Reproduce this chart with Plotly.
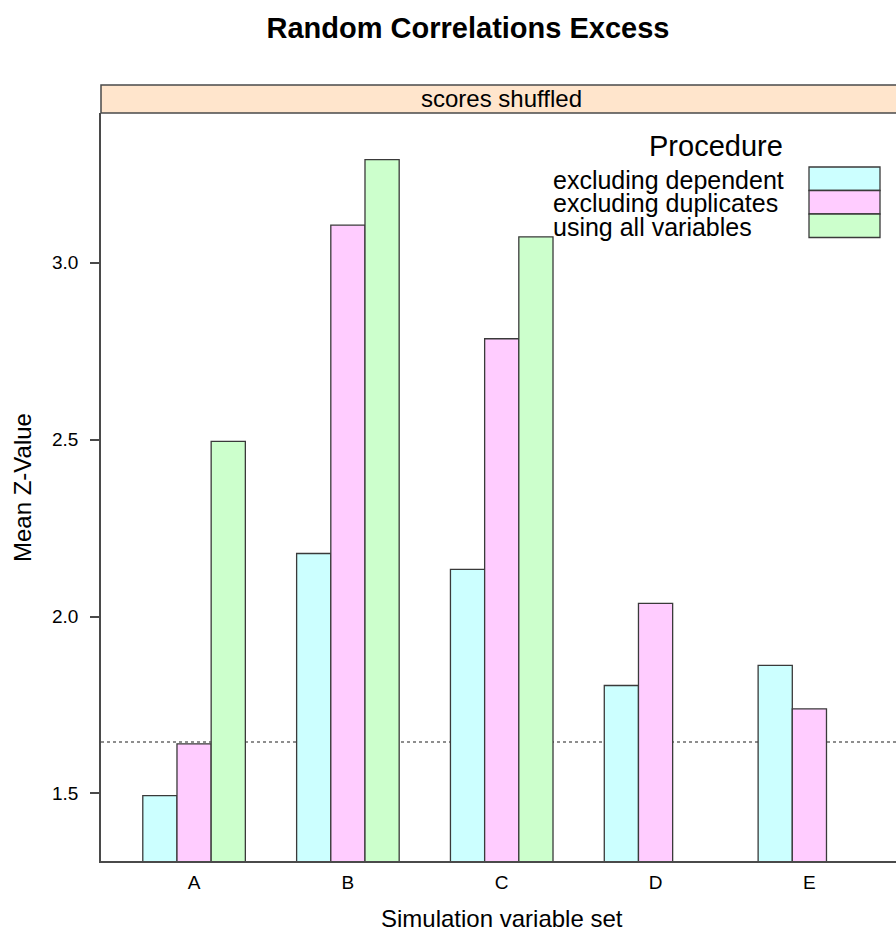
import plotly.graph_objects as go

# Data
categories = ["A", "B", "C", "D", "E"]
procedures = ["excluding dependent", "excluding duplicates", "using all variables"]
excl_dependent = [1.494, 2.178, 2.133, 1.805, 1.862]
excl_duplicates = [1.640, 3.106, 2.785, 2.037, 1.739]
all_variables = [2.495, 3.291, 3.073, None, None]
series = [excl_dependent, excl_duplicates, all_variables]
bar_colors = ["#CCFFFF", "#FFCCFF", "#CCFFCC"]
threshold = 1.645
y_ticks = [1.5, 2.0, 2.5, 3.0]

# Layout geometry (pixels)
W, H = 896, 931
L, R, T, B = 101, 0, 113, 70
PW, PH = W - L - R, H - T - B


def px_x(px):
    return (px - L) / PW


def px_y(py):
    return (H - B - py) / PH


FONT = "Liberation Sans, Arial, Helvetica, sans-serif"
EDGE = "#3a3a3a"

fig = go.Figure()
for name, vals, col in zip(procedures, series, bar_colors):
    fig.add_trace(go.Bar(
        x=categories, y=vals, name=name,
        marker=dict(color=col, line=dict(color=EDGE, width=1.3)),
        showlegend=False,
    ))

shapes = []
# reference line
shapes.append(dict(type="line", xref="paper", yref="y", x0=0, x1=1,
                   y0=threshold, y1=threshold,
                   line=dict(color="#6a6a6a", width=1.5, dash="dot"), layer="below"))
# strip above panel
shapes.append(dict(type="rect", xref="paper", yref="paper",
                   x0=0, x1=1.05, y0=1, y1=px_y(85),
                   fillcolor="#FFE5CC", line=dict(color="#4a4a4a", width=1.5)))

annotations = []
annotations.append(dict(text="scores shuffled", xref="x", yref="paper", x=2,
                        y=px_y(99), xanchor="center", yanchor="middle",
                        showarrow=False, font=dict(family=FONT, size=24, color="black")))

# key
annotations.append(dict(text="Procedure", xref="paper", yref="paper",
                        x=px_x(716), y=px_y(146), xanchor="center", yanchor="middle",
                        showarrow=False, font=dict(family=FONT, size=29, color="black")))
row_tops = [167, 190.5, 214]
row_h = 23.5
for name, col, top in zip(procedures, bar_colors, row_tops):
    annotations.append(dict(text=name, xref="paper", yref="paper",
                            x=px_x(551), y=px_y(top + row_h / 2 + 1),
                            xanchor="left", yanchor="middle", align="left",
                            showarrow=False,
                            font=dict(family=FONT, size=25, color="black")))
    shapes.append(dict(type="rect", xref="paper", yref="paper",
                       x0=px_x(809), x1=px_x(880), y0=px_y(top + row_h), y1=px_y(top),
                       fillcolor=col, line=dict(color=EDGE, width=1.3)))

# axis titles
annotations.append(dict(text="Simulation variable set", xref="x", yref="paper",
                        x=2, y=px_y(918), xanchor="center", yanchor="middle",
                        showarrow=False, font=dict(family=FONT, size=24, color="black")))
annotations.append(dict(text="Mean Z-Value", xref="paper", yref="paper",
                        x=px_x(22), y=px_y(488), xanchor="center", yanchor="middle",
                        textangle=-90, showarrow=False,
                        font=dict(family=FONT, size=24, color="black")))

fig.update_layout(
    width=W, height=H,
    margin=dict(l=L, r=R, t=T, b=B, pad=0),
    paper_bgcolor="white", plot_bgcolor="white",
    barmode="group", bargap=1 / 3, bargroupgap=0,
    title=dict(text="<b>Random Correlations Excess</b>", x=468 / W, xref="container",
               xanchor="center", y=1 - 28 / H, yref="container", yanchor="middle",
               font=dict(family=FONT, size=29, color="black")),
    shapes=shapes, annotations=annotations,
    font=dict(family=FONT, color="black"),
)
fig.update_xaxes(
    type="category", range=[-0.605, 4.563], showgrid=False, zeroline=False,
    showline=True, linecolor="#4a4a4a", linewidth=1.5, ticks="",
    ticklabelstandoff=3, tickfont=dict(family=FONT, size=19, color="black"),
)
fig.update_yaxes(
    range=[1.309, 3.423], showgrid=False, zeroline=False,
    showline=True, linecolor="#4a4a4a", linewidth=1.5,
    ticks="outside", ticklen=9, tickwidth=1.5, tickcolor="#4a4a4a",
    tickvals=y_ticks, tickformat=".1f", ticklabelstandoff=8,
    tickfont=dict(family=FONT, size=19, color="black"),
)

fig.write_html("out.html")
